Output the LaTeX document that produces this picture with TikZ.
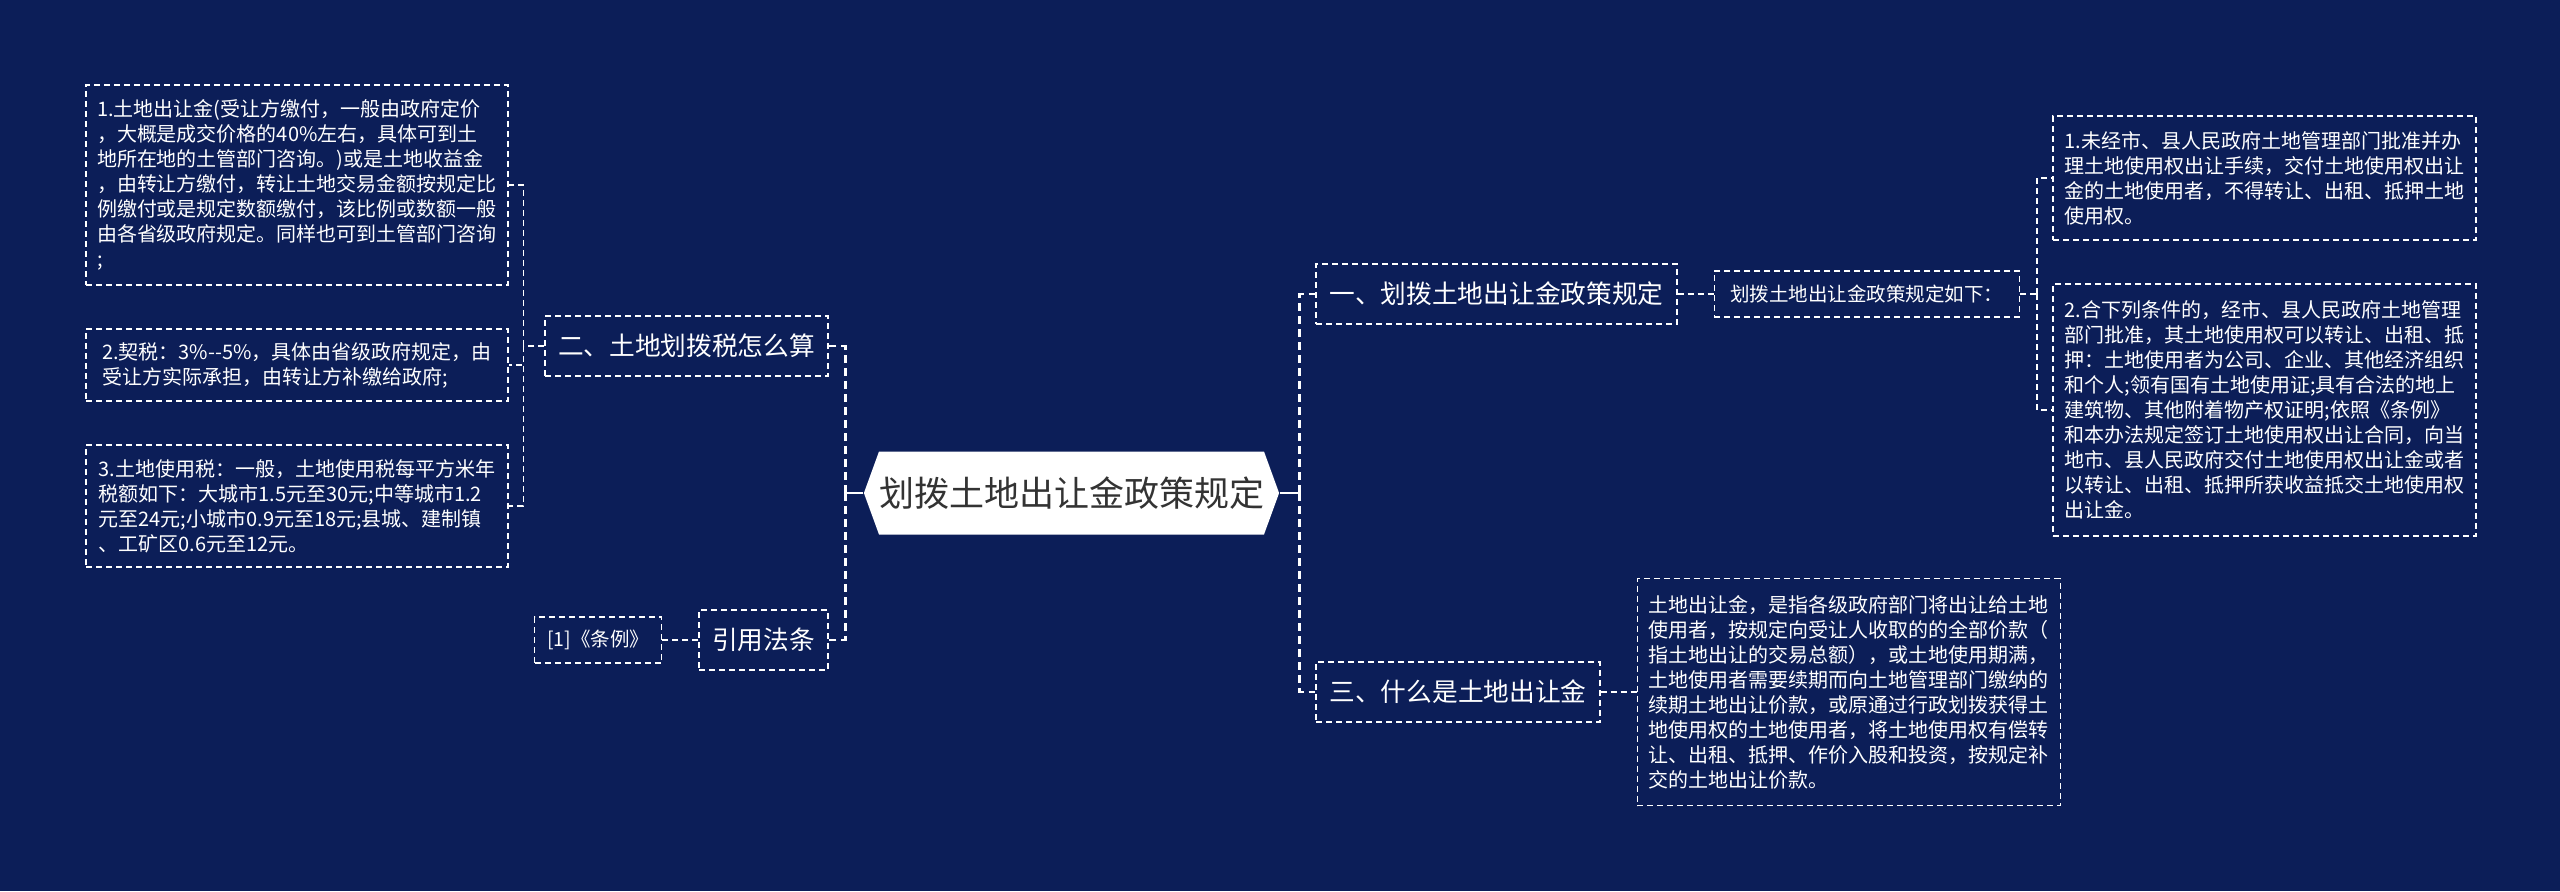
\documentclass[tikz,border=0pt]{standalone}
\usepackage{fontspec}
\setmainfont{Noto Sans CJK SC}
\usetikzlibrary{positioning, shapes.symbols}
\definecolor{mapnavy}{RGB}{12,30,88}
\definecolor{roottext}{RGB}{51,51,51}

\begin{document}
\begin{tikzpicture}[
  x=0.5pt, y=-0.5pt,
  node distance=18pt,
  root/.style={shape=signal, signal to=west and east, signal pointer angle=140,
               fill=white, text=roottext, inner sep=0pt,
               font=\fontsize{17.5pt}{21pt}\selectfont},
  topic/.style={draw=white, dash pattern=on 3pt off 2pt, line width=0.6pt,
                text=white, inner sep=0pt, minimum height=30pt,
                font=\fontsize{12.85pt}{15pt}\selectfont},
  small/.style={draw=white, dash pattern=on 3pt off 2pt, line width=0.6pt,
                text=white, inner sep=0pt, minimum height=23pt,
                font=\fontsize{9.75pt}{12pt}\selectfont},
  leaf/.style={draw=white, dash pattern=on 3pt off 2pt, line width=0.6pt,
               text=white, inner sep=0pt, align=left,
               font=\fontsize{10pt}{12.5pt}\selectfont},
  stem/.style={draw=white, line width=1.1pt},
  link/.style={draw=white, line width=1.1pt, dash pattern=on 4pt off 2.5pt},
  twig/.style={draw=white, line width=0.7pt, dash pattern=on 3pt off 2pt},
]

% background
\fill[mapnavy] (0,0) rectangle (2560,891);
\useasboundingbox (0,0) rectangle (2560,891);

% centre
\node[root, minimum width=192.5pt, minimum height=41.5pt] (root) at (1071.5,493) {划拨土地出让金政策规定};

% left side
\node[topic, minimum width=141.5pt] (tax) at (686.5,346) {二、土地划拨税怎么算};
\node[topic, minimum width=64.5pt] (law) at (763.5,640) {引用法条};
\node[small, minimum width=63.5pt, left=18pt of law] (cite) {[1]《条例》};

\node[leaf, minimum width=211pt, minimum height=100pt] (fee) at (297,185) {%
1.土地出让金(受让方缴付，一般由政府定价\\
，大概是成交价格的40\%左右，具体可到土\\
地所在地的土管部门咨询。)或是土地收益金\\
，由转让方缴付，转让土地交易金额按规定比\\
例缴付或是规定数额缴付，该比例或数额一般\\
由各省级政府规定。同样也可到土管部门咨询\\
;};
\node[leaf, minimum width=211pt, minimum height=36pt] (deed) at (297,365) {%
2.契税：3\%-{}-5\%，具体由省级政府规定，由\\
受让方实际承担，由转让方补缴给政府;};
\node[leaf, minimum width=211pt, minimum height=61pt] (use) at (297,506) {%
3.土地使用税：一般，土地使用税每平方米年\\
税额如下：大城市1.5元至30元;中等城市1.2\\
元至24元;小城市0.9元至18元;县城、建制镇\\
、工矿区0.6元至12元。};

% right side
\node[topic, minimum width=180.5pt] (rule) at (1496.5,294) {一、划拨土地出让金政策规定};
\node[small, minimum width=152.5pt, right=18pt of rule] (ruleq) {划拨土地出让金政策规定如下：};
\node[leaf, minimum width=211.5pt, minimum height=62pt] (rule1) at (2264.5,178) {%
1.未经市、县人民政府土地管理部门批准并办\\
理土地使用权出让手续，交付土地使用权出让\\
金的土地使用者，不得转让、出租、抵押土地\\
使用权。};
\node[leaf, minimum width=211.5pt, minimum height=126pt] (rule2) at (2264.5,410) {%
2.合下列条件的，经市、县人民政府土地管理\\
部门批准，其土地使用权可以转让、出租、抵\\
押：土地使用者为公司、企业、其他经济组织\\
和个人;领有国有土地使用证;具有合法的地上\\
建筑物、其他附着物产权证明;依照《条例》\\
和本办法规定签订土地使用权出让合同，向当\\
地市、县人民政府交付土地使用权出让金或者\\
以转让、出租、抵押所获收益抵交土地使用权\\
出让金。};

\node[topic, minimum width=142pt] (what) at (1458,692) {三、什么是土地出让金};
\node[leaf, minimum width=211.5pt, minimum height=113.5pt, right=18pt of what] (whatx) {%
土地出让金，是指各级政府部门将出让给土地\\
使用者，按规定向受让人收取的的全部价款（\\
指土地出让的交易总额），或土地使用期满，\\
土地使用者需要续期而向土地管理部门缴纳的\\
续期土地出让价款，或原通过行政划拨获得土\\
地使用权的土地使用者，将土地使用权有偿转\\
让、出租、抵押、作价入股和投资，按规定补\\
交的土地出让价款。};

% connectors from the centre
\draw[stem] (root.east) -- ++(20,0) coordinate (rj);
\draw[link] (rj) |- (rule.west);
\draw[link] (rj) |- (what.west);
\draw[stem] (root.west) -- ++(-18,0) coordinate (lj);
\draw[link] (lj) |- (tax.east);
\draw[link] (lj) |- (law.east);

% connectors to the leaves
\draw[twig] (tax.west) -- ++(-21,0) coordinate (taxj);
\draw[twig] (taxj) |- (fee.east);
\draw[twig] (taxj) |- (deed.east);
\draw[twig] (taxj) |- (use.east);
\draw[twig] (law.west) -- (cite.east);
\draw[twig] (rule.east) -- (ruleq.west);
\draw[twig] (ruleq.east) -- ++(17,0) coordinate (ruleqj);
\draw[twig] (ruleqj) |- (rule1.west);
\draw[twig] (ruleqj) |- (rule2.west);
\draw[twig] (what.east) -- (whatx.west);

\end{tikzpicture}
\end{document}
